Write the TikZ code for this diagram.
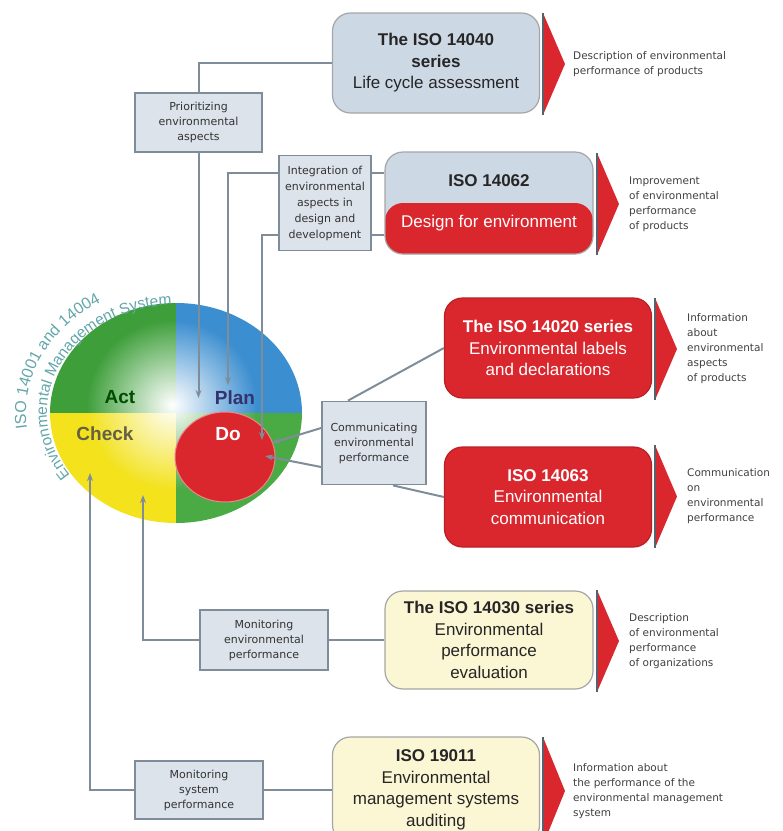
\documentclass[tikz,border=0pt]{standalone}
\usepackage{fontspec}
\setmainfont{Liberation Sans}
\newfontfamily\notefont{DejaVu Sans}
\usetikzlibrary{arrows.meta,decorations.text,fadings}

\definecolor{linegray}{HTML}{7F8D9A}
\definecolor{boxgray}{HTML}{DDE3EA}
\definecolor{isoblue}{HTML}{CDD8E5}
\definecolor{isored}{HTML}{DA262D}
\definecolor{isoyellow}{HTML}{FBF6D4}
\definecolor{actgreen}{HTML}{3E9F3A}
\definecolor{planblue}{HTML}{3B8ED0}
\definecolor{checkyellow}{HTML}{F3E21C}
\definecolor{dogreen}{HTML}{4AAA44}
\definecolor{emsteal}{HTML}{62A6AA}
\definecolor{tipgray}{HTML}{56616C}

\tikzfading[name=glowfade, inner color=transparent!0, outer color=transparent!100]

\tikzset{
  stepbox/.style={draw=linegray, line width=1.8pt, fill=boxgray, align=center,
    inner sep=1pt, text=black!80, font=\notefont\fontsize{11}{15}\selectfont},
  isobox/.style={rounded corners=18pt, line width=1.2pt, minimum width=207pt,
    minimum height=100pt, align=center, font=\fontsize{17}{21.5}\selectfont},
  bluebox/.style={isobox, draw=black!35, fill=isoblue, text=black!85},
  redbox/.style={isobox, draw=isored!85!black, fill=isored, text=white},
  yellowbox/.style={isobox, draw=black!35, fill=isoyellow, text=black!85},
  note/.style={anchor=west, align=left, inner sep=0pt, text=black!75,
    font=\notefont\fontsize{10.5}{15}\selectfont},
  link/.style={draw=linegray, line width=2pt},
  into/.style={link, -{Stealth[length=8pt,width=6pt]}},
  pdca/.style={font=\bfseries\fontsize{19}{19}\selectfont}
}

\begin{document}
\begin{tikzpicture}[x=1pt,y=-1pt]
  \useasboundingbox (0,0) rectangle (783,831);
  \clip (0,0) rectangle (783,831);

  % the management system circle
  \begin{scope}
    \clip (176,413) ellipse (126pt and 110pt);
    \fill[actgreen] (40,290) rectangle (176,413);
    \fill[planblue] (176,290) rectangle (310,413);
    \fill[checkyellow] (40,413) rectangle (176,530);
    \fill[dogreen] (176,413) rectangle (310,530);
    \fill[white, path fading=glowfade] (172,405) circle (85pt);
  \end{scope}
  \fill[isored, draw=isored!55!white, line width=1pt] (225,457) ellipse (50pt and 45pt);

  \node[pdca, text=black!70!green] (act) at (120,397) {Act};
  \node[pdca, text=blue!30!black!80] (plan) at (235,398) {Plan};
  \node[pdca, text=black!70!yellow] (check) at (105,434) {Check};
  \node[pdca, text=white] (do) at (228,434) {Do};

  \path[decorate, decoration={text along path, text align=left,
      text={|\color{emsteal}\fontsize{16}{16}\selectfont|ISO 14001 and 14004}}]
    (176,413) ++(187:150pt and 128pt)
    arc[start angle=187, end angle=100, x radius=150pt, y radius=128pt];
  \path[decorate, decoration={text along path, text align=left,
      text={|\color{emsteal}\fontsize{15.5}{15.5}\selectfont|Environmental Management System}}]
    (176,413) ++(215:129pt and 108pt)
    arc[start angle=215, end angle=75, x radius=129pt, y radius=108pt];

  % standards
  \node[bluebox] (lca) at (436,63) {\textbf{The ISO 14040}\\\textbf{series}\\Life cycle assessment};
  \node[bluebox, minimum width=208pt, minimum height=102pt,
    path picture={\fill[isored] (path picture bounding box.west) rectangle (path picture bounding box.south east);}]
    (dfe) at (489,203) {\textbf{ISO 14062}\\[20pt]{\color{white}Design for environment}};
  \node[redbox] (labels) at (548,348) {\textbf{The ISO 14020 series}\\Environmental labels\\and declarations};
  \node[redbox] (comms) at (548,497) {\textbf{ISO 14063}\\Environmental\\communication};
  \node[yellowbox, minimum width=208pt, minimum height=98pt] (epe) at (489,640)
    {\textbf{The ISO 14030 series}\\Environmental\\performance\\evaluation};
  \node[yellowbox, minimum height=106pt] (audit) at (436,790)
    {\textbf{ISO 19011}\\Environmental\\management systems\\auditing};

  % output arrows
  \foreach \x/\yt/\yb [count=\i] in {543/13/115, 597/153/255, 655/298/400,
                                     655/445/548, 597/590/692, 543/737/845} {
    \fill[isored] (\x,\yt) -- ({\x+22},{(\yt+\yb)/2}) -- (\x,\yb) -- cycle;
    \draw[tipgray, line width=1.5pt] (\x,\yt) -- (\x,\yb);
    \coordinate (tip\i) at ({\x+22},{(\yt+\yb)/2});
  }
  \node[note] (n1) at ([xshift=8pt]tip1) {Description of environmental\\performance of products};
  \node[note] (n2) at ([xshift=10pt]tip2) {Improvement\\of environmental\\performance\\of products};
  \node[note] (n3) at ([xshift=10pt]tip3) {Information\\about\\environmental\\aspects\\of products};
  \node[note] (n4) at ([xshift=10pt]tip4) {Communication\\on\\environmental\\performance};
  \node[note] (n5) at ([xshift=10pt]tip5) {Description\\of environmental\\performance\\of organizations};
  \node[note] (n6) at ([xshift=8pt]tip6) {Information about\\the performance of the\\environmental management\\system};

  % activities
  \node[stepbox, minimum width=127pt, minimum height=59pt] (prio) at (198.5,122.5)
    {Prioritizing\\environmental\\aspects};
  \node[stepbox, minimum width=92pt, minimum height=95pt, font=\notefont\fontsize{11}{16}\selectfont]
    (integ) at (325,203) {Integration of\\environmental\\aspects in\\design and\\development};
  \node[stepbox, minimum width=104pt, minimum height=83pt] (comm) at (374,443)
    {Communicating\\environmental\\performance};
  \node[stepbox, minimum width=128pt, minimum height=60pt] (monenv) at (264,640)
    {Monitoring\\environmental\\performance};
  \node[stepbox, minimum width=128pt, minimum height=58pt] (monsys) at (199,790)
    {Monitoring\\system\\performance};

  \coordinate (planin) at (198.5,398);
  \coordinate (planin2) at (228,385);
  \coordinate (doin1) at (262,440);
  \coordinate (doin2) at (272,443);
  \coordinate (doin3) at (265,456);
  \coordinate (checkin1) at (143,495);
  \coordinate (checkin2) at (90,473);

  \draw[link] (lca.west) -| (prio.north);
  \draw[into] (prio.south) -- (planin);
  \draw[into] ([yshift=30pt]integ.west) -| (planin2);
  \draw[into] ([yshift=-32pt]integ.west) -| (doin1);
  \draw[link] ([yshift=30pt]integ.east) -- ([yshift=30pt]dfe.west);
  \draw[link] ([yshift=-32pt]integ.east) -- ([yshift=-32pt]dfe.west);
  \draw[link] ([xshift=-26pt]comm.north) -- (labels.west);
  \draw[link] ([xshift=19pt]comm.south) -- (comms.west);
  \draw[into] ([yshift=15pt]comm.west) -- (doin2);
  \draw[into] ([yshift=-24pt]comm.west) -- (doin3);
  \draw[into] (monenv.west) -| (checkin1);
  \draw[link] (monenv.east) -- (epe.west);
  \draw[into] (monsys.west) -| (checkin2);
  \draw[link] (monsys.east) -- (audit.west);
\end{tikzpicture}
\end{document}
